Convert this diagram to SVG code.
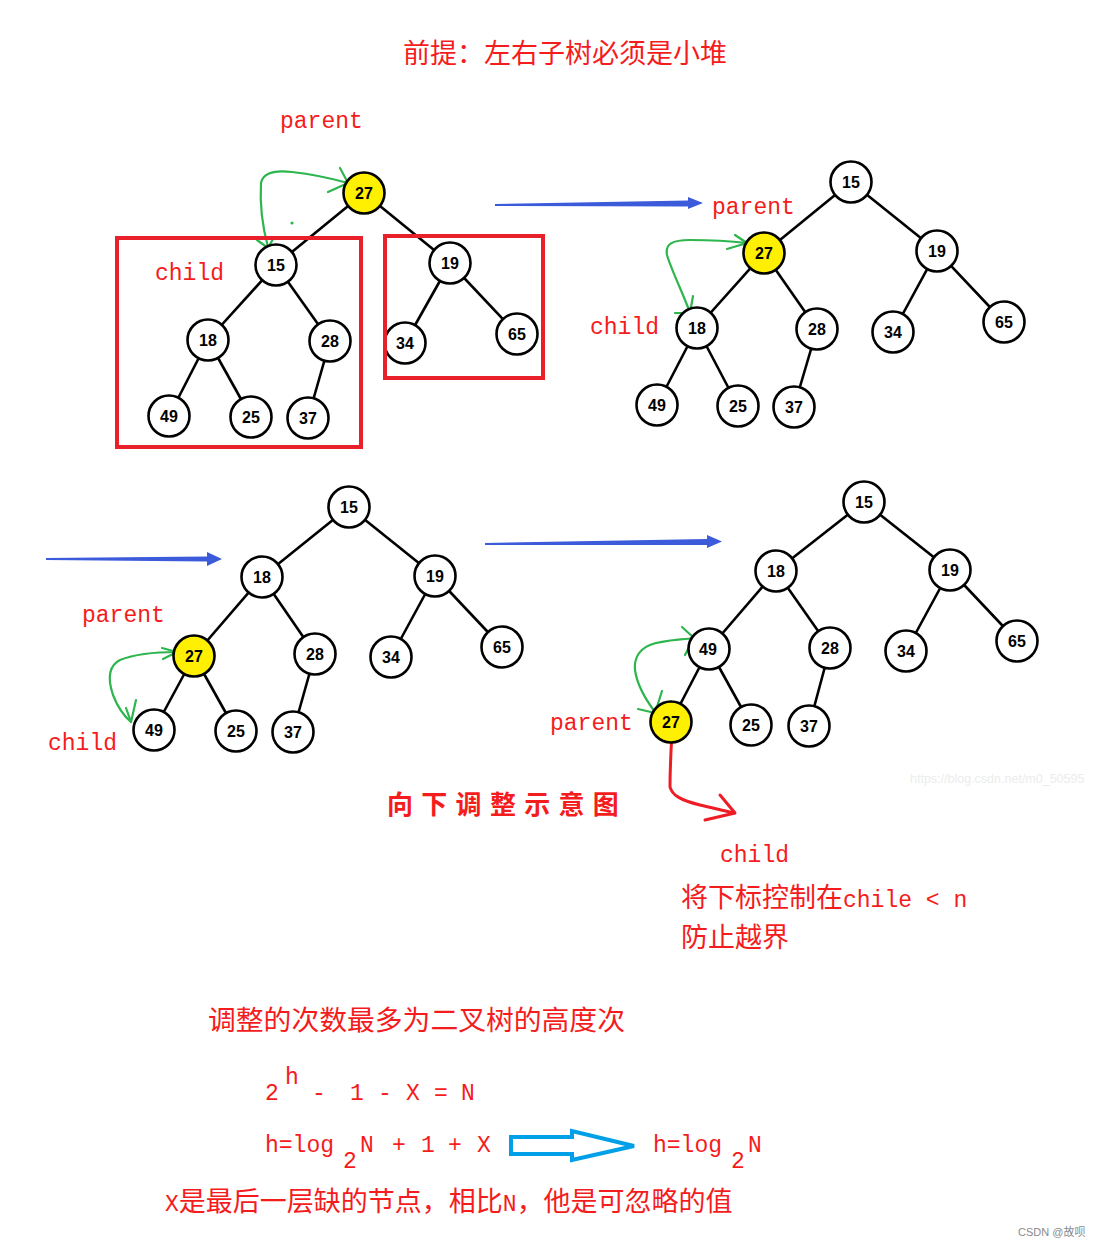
<svg xmlns="http://www.w3.org/2000/svg" width="1100" height="1247" viewBox="0 0 1100 1247">
<style>
.e{stroke:#000;stroke-width:2.6;fill:none}
.n circle{fill:#fff;stroke:#000;stroke-width:2.6}
.n.y circle{fill:#ffef00}
.n text{font-family:"Liberation Sans",Arial,sans-serif;font-weight:bold;font-size:16px;text-anchor:middle;fill:#000}
.lt{font-family:"Liberation Mono","Courier New",monospace;font-size:23px;fill:#f41c1c}
.cj{font-family:"Noto Sans CJK SC",sans-serif;font-size:27px;fill:#f41c1c}
.box{fill:none;stroke:#e8202a;stroke-width:4}
.gr{fill:none;stroke:#2db54e;stroke-width:2.2;stroke-linecap:round;stroke-linejoin:round}
.bl{fill:#3b5bdb}
.rd{fill:none;stroke:#ee1c24;stroke-width:3;stroke-linecap:round;stroke-linejoin:round}
</style>
<rect width="1100" height="1247" fill="#fff"/>

<text class="cj" x="403" y="63">前提：左右子树必须是小堆</text>

<g id="connectors">
<!-- tree 1 -->
<line class="e" x1="364" y1="193" x2="276" y2="265"/>
<line class="e" x1="364" y1="193" x2="450" y2="263"/>
<line class="e" x1="276" y1="265" x2="208" y2="340"/>
<line class="e" x1="276" y1="265" x2="330" y2="341"/>
<line class="e" x1="208" y1="340" x2="169" y2="416"/>
<line class="e" x1="208" y1="340" x2="251" y2="417"/>
<line class="e" x1="330" y1="341" x2="308" y2="418"/>
<line class="e" x1="450" y1="263" x2="405" y2="343"/>
<line class="e" x1="450" y1="263" x2="517" y2="334"/>
<!-- tree 2 -->
<line class="e" x1="851" y1="182" x2="764" y2="253"/>
<line class="e" x1="851" y1="182" x2="937" y2="251"/>
<line class="e" x1="764" y1="253" x2="697" y2="328"/>
<line class="e" x1="764" y1="253" x2="817" y2="329"/>
<line class="e" x1="697" y1="328" x2="657" y2="405"/>
<line class="e" x1="697" y1="328" x2="738" y2="406"/>
<line class="e" x1="817" y1="329" x2="794" y2="407"/>
<line class="e" x1="937" y1="251" x2="893" y2="332"/>
<line class="e" x1="937" y1="251" x2="1004" y2="322"/>
<!-- tree 3 -->
<line class="e" x1="349" y1="507" x2="262" y2="577"/>
<line class="e" x1="349" y1="507" x2="435" y2="576"/>
<line class="e" x1="262" y1="577" x2="194" y2="656"/>
<line class="e" x1="262" y1="577" x2="315" y2="654"/>
<line class="e" x1="194" y1="656" x2="154" y2="730"/>
<line class="e" x1="194" y1="656" x2="236" y2="731"/>
<line class="e" x1="315" y1="654" x2="293" y2="732"/>
<line class="e" x1="435" y1="576" x2="391" y2="657"/>
<line class="e" x1="435" y1="576" x2="502" y2="647"/>
<!-- tree 4 -->
<line class="e" x1="864" y1="502" x2="776" y2="571"/>
<line class="e" x1="864" y1="502" x2="950" y2="570"/>
<line class="e" x1="776" y1="571" x2="709" y2="649"/>
<line class="e" x1="776" y1="571" x2="830" y2="648"/>
<line class="e" x1="709" y1="649" x2="671" y2="722"/>
<line class="e" x1="709" y1="649" x2="751" y2="725"/>
<line class="e" x1="830" y1="648" x2="809" y2="726"/>
<line class="e" x1="950" y1="570" x2="906" y2="651"/>
<line class="e" x1="950" y1="570" x2="1017" y2="641"/>

<!-- blue arrows -->
<polygon class="bl" points="495,204 688,200.5 688,197 703,203 688,209 688,206.5 495,206"/>
<polygon class="bl" points="46,558 207,556.5 207,552 222,559 207,566 207,561.5 46,560"/>
<polygon class="bl" points="485,543 707,539 707,535 722,541.5 707,548 707,545 485,545"/>

<!-- green swap arrows -->
<path class="gr" d="M268,247 C262,225 260,200 261,183 C263,172 275,170 292,172 C310,174 330,178 348,183"/>
<path class="gr" d="M340,168 L348,183 L328,192"/>
<path class="gr" d="M257,240 L268,248 L273,239"/>
<circle cx="292" cy="223" r="1.6" fill="#2db54e"/>

<path class="gr" d="M690,313 C684,295 672,272 667,255 C665,244 672,240 690,240 C710,240 730,241 747,243"/>
<path class="gr" d="M735,235 L747,243 L727,249"/>
<path class="gr" d="M675,313 L690,313 L693,296"/>

<path class="gr" d="M177,652 C160,652 135,654 120,660 C108,666 108,680 113,695 C118,708 124,716 131,722"/>
<path class="gr" d="M162,648 L177,652 L163,659"/>
<path class="gr" d="M126,708 L131,722 L136,700"/>

<path class="gr" d="M694,638 C680,640 662,640 650,645 C638,650 634,660 635,670 C637,685 646,700 655,712"/>
<path class="gr" d="M682,627 L694,638 L685,655"/>
<path class="gr" d="M638,709 L655,713 L662,691"/>

<!-- red arrow -->
<path class="rd" d="M672,731 C671,750 670,770 670,787 C672,795 680,800 700,805 C712,808 722,810 734,813"/>
<path class="rd" d="M720,795 L735,813 L705,820"/>
</g>

<g id="n1-27" class="n y"><circle cx="364" cy="193" r="20.5"/><text x="364" y="199">27</text></g>
<g id="n1-15" class="n"><circle cx="276" cy="265" r="20.5"/><text x="276" y="271">15</text></g>
<g id="n1-19" class="n"><circle cx="450" cy="263" r="20.5"/><text x="450" y="269">19</text></g>
<g id="n1-18" class="n"><circle cx="208" cy="340" r="20.5"/><text x="208" y="346">18</text></g>
<g id="n1-28" class="n"><circle cx="330" cy="341" r="20.5"/><text x="330" y="347">28</text></g>
<g id="n1-34" class="n"><circle cx="405" cy="343" r="20.5"/><text x="405" y="349">34</text></g>
<g id="n1-65" class="n"><circle cx="517" cy="334" r="20.5"/><text x="517" y="340">65</text></g>
<g id="n1-49" class="n"><circle cx="169" cy="416" r="20.5"/><text x="169" y="422">49</text></g>
<g id="n1-25" class="n"><circle cx="251" cy="417" r="20.5"/><text x="251" y="423">25</text></g>
<g id="n1-37" class="n"><circle cx="308" cy="418" r="20.5"/><text x="308" y="424">37</text></g>

<g id="n2-15" class="n"><circle cx="851" cy="182" r="20.5"/><text x="851" y="188">15</text></g>
<g id="n2-27" class="n y"><circle cx="764" cy="253" r="20.5"/><text x="764" y="259">27</text></g>
<g id="n2-19" class="n"><circle cx="937" cy="251" r="20.5"/><text x="937" y="257">19</text></g>
<g id="n2-18" class="n"><circle cx="697" cy="328" r="20.5"/><text x="697" y="334">18</text></g>
<g id="n2-28" class="n"><circle cx="817" cy="329" r="20.5"/><text x="817" y="335">28</text></g>
<g id="n2-34" class="n"><circle cx="893" cy="332" r="20.5"/><text x="893" y="338">34</text></g>
<g id="n2-65" class="n"><circle cx="1004" cy="322" r="20.5"/><text x="1004" y="328">65</text></g>
<g id="n2-49" class="n"><circle cx="657" cy="405" r="20.5"/><text x="657" y="411">49</text></g>
<g id="n2-25" class="n"><circle cx="738" cy="406" r="20.5"/><text x="738" y="412">25</text></g>
<g id="n2-37" class="n"><circle cx="794" cy="407" r="20.5"/><text x="794" y="413">37</text></g>

<g id="n3-15" class="n"><circle cx="349" cy="507" r="20.5"/><text x="349" y="513">15</text></g>
<g id="n3-18" class="n"><circle cx="262" cy="577" r="20.5"/><text x="262" y="583">18</text></g>
<g id="n3-19" class="n"><circle cx="435" cy="576" r="20.5"/><text x="435" y="582">19</text></g>
<g id="n3-27" class="n y"><circle cx="194" cy="656" r="20.5"/><text x="194" y="662">27</text></g>
<g id="n3-28" class="n"><circle cx="315" cy="654" r="20.5"/><text x="315" y="660">28</text></g>
<g id="n3-34" class="n"><circle cx="391" cy="657" r="20.5"/><text x="391" y="663">34</text></g>
<g id="n3-65" class="n"><circle cx="502" cy="647" r="20.5"/><text x="502" y="653">65</text></g>
<g id="n3-49" class="n"><circle cx="154" cy="730" r="20.5"/><text x="154" y="736">49</text></g>
<g id="n3-25" class="n"><circle cx="236" cy="731" r="20.5"/><text x="236" y="737">25</text></g>
<g id="n3-37" class="n"><circle cx="293" cy="732" r="20.5"/><text x="293" y="738">37</text></g>

<g id="n4-15" class="n"><circle cx="864" cy="502" r="20.5"/><text x="864" y="508">15</text></g>
<g id="n4-18" class="n"><circle cx="776" cy="571" r="20.5"/><text x="776" y="577">18</text></g>
<g id="n4-19" class="n"><circle cx="950" cy="570" r="20.5"/><text x="950" y="576">19</text></g>
<g id="n4-49" class="n"><circle cx="709" cy="649" r="20.5"/><text x="708" y="655">49</text></g>
<g id="n4-28" class="n"><circle cx="830" cy="648" r="20.5"/><text x="830" y="654">28</text></g>
<g id="n4-34" class="n"><circle cx="906" cy="651" r="20.5"/><text x="906" y="657">34</text></g>
<g id="n4-65" class="n"><circle cx="1017" cy="641" r="20.5"/><text x="1017" y="647">65</text></g>
<g id="n4-27" class="n y"><circle cx="671" cy="722" r="20.5"/><text x="671" y="728">27</text></g>
<g id="n4-25" class="n"><circle cx="751" cy="725" r="20.5"/><text x="751" y="731">25</text></g>
<g id="n4-37" class="n"><circle cx="809" cy="726" r="20.5"/><text x="809" y="732">37</text></g>

<g id="boxes">
<rect class="box" x="117" y="238" width="244" height="209"/>
<rect class="box" x="385" y="236" width="158" height="142"/>
</g>

<g id="labels">
<text class="lt" x="280" y="128">parent</text>
<text class="lt" x="155" y="280">child</text>
<text class="lt" x="712" y="214">parent</text>
<text class="lt" x="590" y="334">child</text>
<text class="lt" x="82" y="622">parent</text>
<text class="lt" x="48" y="750">child</text>
<text class="lt" x="550" y="730">parent</text>
<text class="lt" x="720" y="862">child</text>
<text class="cj" x="387" y="814" style="font-weight:bold;letter-spacing:8.3px;font-size:26px">向下调整示意图</text>
<text x="681" y="907"><tspan class="cj">将下标控制在</tspan><tspan class="lt">chile &lt; n</tspan></text>
<text class="cj" x="681" y="947">防止越界</text>
<text class="cj" x="208" y="1030" style="font-size:27.8px">调整的次数最多为二叉树的高度次</text>

<text class="lt"><tspan x="265" y="1100">2</tspan><tspan x="285" y="1084">h</tspan><tspan x="312" y="1100">-</tspan><tspan x="350" y="1100">1</tspan><tspan x="378" y="1100">-</tspan><tspan x="406" y="1100">X</tspan><tspan x="434" y="1100">=</tspan><tspan x="461" y="1100">N</tspan></text>
<text class="lt"><tspan x="265" y="1152">h=log</tspan><tspan x="343" y="1168">2</tspan><tspan x="360" y="1152">N</tspan><tspan x="392" y="1152">+</tspan><tspan x="421" y="1152">1</tspan><tspan x="448" y="1152">+</tspan><tspan x="477" y="1152">X</tspan></text>
<polygon points="511,1137 572,1137 572,1131 634,1146 572,1160 572,1154 511,1154" fill="none" stroke="#00a0e9" stroke-width="4" stroke-linejoin="miter"/>
<text class="lt"><tspan x="653" y="1152">h=log</tspan><tspan x="731" y="1168">2</tspan><tspan x="748" y="1152">N</tspan></text>
<text x="165" y="1211"><tspan class="lt">X</tspan><tspan class="cj">是最后一层缺的节点，相比</tspan><tspan class="lt">N</tspan><tspan class="cj">，他是可忽略的值</tspan></text>

<text x="910" y="783" style="font-family:'Liberation Sans',Arial,sans-serif;font-size:12.5px;fill:#ececec">https://blog.csdn.net/m0_50595</text>
<text x="1018" y="1236" style="font-family:'Liberation Sans','Noto Sans CJK SC',sans-serif;font-size:11px;fill:#8a8a8a">CSDN @故呗</text>
</g>
</svg>
